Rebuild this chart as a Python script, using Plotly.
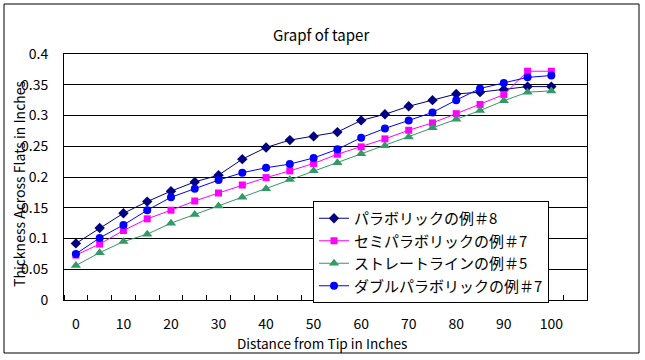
import plotly.graph_objects as go

distance = [0, 5, 10, 15, 20, 25, 30, 35, 40, 45, 50, 55, 60, 65, 70, 75, 80, 85, 90, 95, 100]
parabolic_8 = [0.092, 0.117, 0.141, 0.160, 0.177, 0.192, 0.203, 0.229, 0.248, 0.260, 0.266, 0.273, 0.292,
               0.302, 0.315, 0.325, 0.335, 0.338, 0.342, 0.347, 0.347]
semi_parabolic_7 = [0.073, 0.091, 0.113, 0.132, 0.146, 0.161, 0.174, 0.187, 0.199, 0.210, 0.222, 0.237, 0.249,
                    0.262, 0.276, 0.288, 0.303, 0.318, 0.334, 0.372, 0.372]
straight_5 = [0.056, 0.077, 0.095, 0.107, 0.125, 0.139, 0.153, 0.167, 0.181, 0.196, 0.210, 0.223, 0.238,
              0.251, 0.265, 0.280, 0.294, 0.308, 0.324, 0.338, 0.340]
double_parabolic_7 = [0.075, 0.101, 0.122, 0.146, 0.167, 0.181, 0.195, 0.207, 0.215, 0.221, 0.231, 0.245, 0.264,
                      0.279, 0.292, 0.305, 0.325, 0.344, 0.353, 0.362, 0.365]

series = [
    ("パラボリックの例＃8", parabolic_8, "#000080", "diamond", 8),
    ("セミパラボリックの例＃7", semi_parabolic_7, "#FF00FF", "square", 7),
    ("ストレートラインの例＃5", straight_5, "#339966", "triangle-up", 9),
    ("ダブルパラボリックの例＃7", double_parabolic_7, "#0000FF", "circle", 8),
]

x_labels = [0, 10, 20, 30, 40, 50, 60, 70, 80, 90, 100]
y_ticks = [0, 0.05, 0.1, 0.15, 0.2, 0.25, 0.3, 0.35, 0.4]
y_labels = ["0", "0.05", "0.1", "0.15", "0.2", "0.25", "0.3", "0.35", "0.4"]

FONT = "Noto Sans CJK JP"

fig = go.Figure()
for name, vals, color, sym, size in series:
    fig.add_trace(go.Scatter(
        x=distance, y=vals, name=name, mode="lines+markers",
        line=dict(color=color, width=1),
        marker=dict(symbol=sym, size=size, color=color),
    ))

W, H = 645, 360
L, R, T, B = 64, 58, 54, 60
pw, ph = W - L - R, H - T - B

def px_x(p):
    return (p - L) / pw

def px_y(p):
    return (H - B - p) / ph

fig.update_layout(
    width=W, height=H,
    margin=dict(l=L, r=R, t=T, b=B),
    paper_bgcolor="white", plot_bgcolor="white",
    font=dict(family=FONT, size=14, color="black"),
    showlegend=True,
    legend=dict(
        x=px_x(313), y=px_y(201), xanchor="left", yanchor="top",
        bgcolor="white", bordercolor="black", borderwidth=1,
        font=dict(family=FONT, size=15, color="black"),
        tracegroupgap=0, itemwidth=30,
    ),
    xaxis=dict(
        range=[-2.5, 107.5], tickmode="array", tickvals=x_labels,
        ticktext=[str(v) for v in x_labels], ticks="", showgrid=False,
        showline=True, linecolor="black", linewidth=1, mirror=True,
        zeroline=False, ticklabelstandoff=11,
        tickfont=dict(family=FONT, size=14),
        minor=dict(tickmode="linear", tick0=2.5, dtick=5, ticks="inside",
                   ticklen=5, tickcolor="black", showgrid=False),
    ),
    yaxis=dict(
        range=[0, 0.4], tickmode="array", tickvals=y_ticks, ticktext=y_labels,
        ticks="inside", ticklen=4, tickcolor="black",
        showgrid=True, gridcolor="black", gridwidth=1,
        showline=True, linecolor="black", linewidth=1, mirror=True,
        zeroline=False, ticklabelstandoff=12,
        tickfont=dict(family=FONT, size=14),
    ),
    annotations=[
        dict(text="Grapf of taper", x=px_x(321), y=px_y(34), xref="paper", yref="paper",
             xanchor="center", yanchor="middle",
             showarrow=False, font=dict(family=FONT, size=15)),
        dict(text="Distance from Tip in Inches", x=px_x(322), y=px_y(343), xref="paper", yref="paper",
             xanchor="center", yanchor="middle",
             showarrow=False, font=dict(family=FONT, size=13.6)),
        dict(text="Thickness Across Flats in Inches", x=px_x(19), y=px_y(184), xref="paper", yref="paper",
             xanchor="center", yanchor="middle",
             showarrow=False, textangle=-90, font=dict(family=FONT, size=14)),
    ],
    shapes=[
        dict(type="rect", xref="paper", yref="paper",
             x0=px_x(4), x1=px_x(639), y0=px_y(4), y1=px_y(353),
             line=dict(color="black", width=1), fillcolor="rgba(0,0,0,0)", layer="below"),
    ],
)

fig.write_html("out.html", config={"displayModeBar": False},
               post_script="document.body.style.margin='0';document.body.style.overflow='hidden';")
